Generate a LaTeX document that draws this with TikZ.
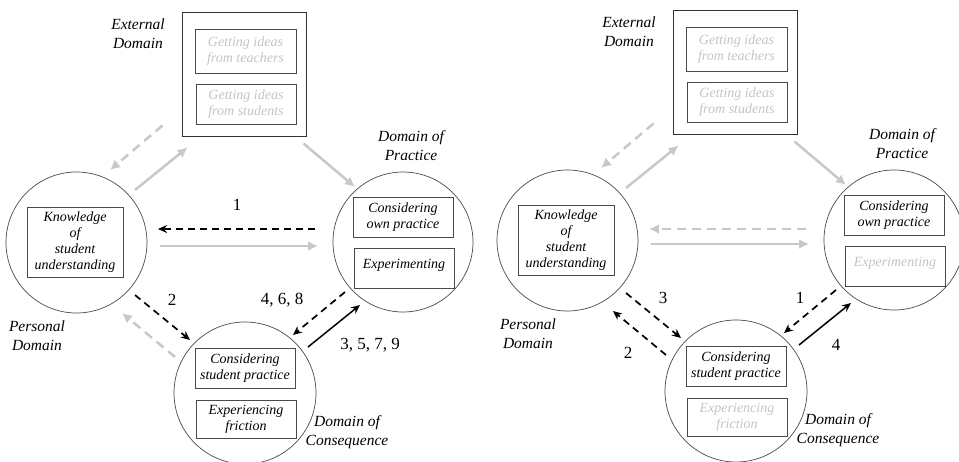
\documentclass[tikz,border=0pt]{standalone}
\usepackage{fontspec}
\setmainfont{Liberation Serif}
\usetikzlibrary{arrows.meta,calc}
\definecolor{lightarr}{HTML}{C8C8C8}
\definecolor{graytxt}{HTML}{C4C4C4}
\definecolor{edgec}{HTML}{4A4A4A}
\tikzset{
  domcircle/.style={circle, draw=edgec, line width=0.7pt, minimum size=141pt, inner sep=0pt},
  ibox/.style={draw=edgec, line width=0.9pt, minimum width=100pt, minimum height=40pt, inner sep=0pt, align=center, font=\fontsize{14}{16}\selectfont\itshape},
  extbox/.style={draw=black!80, line width=1pt, minimum width=124pt, minimum height=124pt, inner sep=0pt},
  domlabel/.style={font=\fontsize{15.5}{19}\selectfont\itshape, align=center, inner sep=0pt},
  numlabel/.style={font=\fontsize{17}{20}\selectfont, inner sep=0pt},
  blackdash/.style={draw=black, line width=1.7pt, dash pattern=on 7pt off 5pt, -{Stealth[length=9pt,width=8pt]}},
  blacksolid/.style={draw=black, line width=1.5pt, -{Stealth[length=9pt,width=8pt]}},
  graysolid/.style={draw=lightarr, line width=2.5pt, -{Latex[length=10pt,width=10pt]}},
  graydash/.style={graysolid, dash pattern=on 9pt off 6pt},
}
\begin{document}
\begin{tikzpicture}[x=1pt,y=-1pt]
\useasboundingbox (0,0) rectangle (959,461);

% ---------------- left diagram ----------------
\begin{scope}
  \node[extbox] (Lext) at (244,74) {};
  \node[ibox, minimum width=101pt, minimum height=44pt, text=graytxt] (Lteach) at (245.5,51) {Getting ideas\\from teachers};
  \node[ibox, text=graytxt] (Lstud) at (246,104) {Getting ideas\\from students};
  \node[domlabel] (LextL) at (138,34) {External\\Domain};

  \node[domcircle] (Lpers) at (76.5,242.5) {};
  \node[ibox, minimum width=96pt, minimum height=70pt] (Lknow) at (75,242) {Knowledge\\of\\student\\understanding};
  \node[domlabel] (LpersL) at (37,336) {Personal\\Domain};

  \node[domcircle, minimum size=140pt] (Lprac) at (403,242) {};
  \node[ibox] (Lown) at (403,217) {Considering\\own practice};
  \node[ibox, text height=10pt, text depth=10pt] (Lexp) at (404,268) {Experimenting};
  \node[domlabel] (LpracL) at (411,146) {Domain of\\Practice};

  \node[domcircle, minimum size=142pt] (Lcons) at (245,393) {};
  \node[ibox] (Lcsp) at (245,368) {Considering\\student practice};
  \node[ibox, minimum height=38pt] (Lfric) at (246,419) {Experiencing\\friction};
  \node[domlabel] (LconsL) at (347,432) {Domain of\\Consequence};

  \draw[graydash] ($(Lext.south west)+(-19,-11)$) -- ($(Lpers)+(33.5,-72.5)$);
  \draw[graysolid] ($(Lpers)+(58.5,-52.5)$) -- ($(Lext.south west)+(6,11)$);
  \draw[graysolid] ($(Lext.south east)+(-3,7)$) -- ($(Lprac)+(-48,-55)$);
  \draw[blackdash] ($(Lprac)+(-88,-13)$) -- ($(Lpers)+(81.5,-13.5)$);
  \draw[graysolid] ($(Lpers)+(83.5,3.5)$) -- ($(Lprac)+(-85,4)$);
  \draw[blackdash] ($(Lpers)+(58.5,52.5)$) -- ($(Lcons)+(-55,-53)$);
  \draw[graydash] ($(Lcons)+(-70,-36)$) -- ($(Lpers)+(45.5,70.5)$);
  \draw[blackdash] ($(Lprac)+(-58,50)$) -- ($(Lcons)+(48,-58)$);
  \draw[blacksolid] ($(Lcons)+(63,-46)$) -- ($(Lprac)+(-43,63)$);

  \node[numlabel] (Ln1) at (237,205) {1};
  \node[numlabel] (Ln2) at (172,300) {2};
  \node[numlabel] (Ln468) at (282,300) {4, 6, 8};
  \node[numlabel] (Ln3579) at (370,345) {3, 5, 7, 9};
\end{scope}

% ---------------- right diagram ----------------
\begin{scope}[shift={(491,-2)}]
  \node[extbox] (Rext) at (244,74) {};
  \node[ibox, minimum width=101pt, minimum height=44pt, text=graytxt] (Rteach) at (245.5,51) {Getting ideas\\from teachers};
  \node[ibox, text=graytxt] (Rstud) at (246,104) {Getting ideas\\from students};
  \node[domlabel] (RextL) at (138,34) {External\\Domain};

  \node[domcircle] (Rpers) at (76.5,242.5) {};
  \node[ibox, minimum width=96pt, minimum height=70pt] (Rknow) at (75,242) {Knowledge\\of\\student\\understanding};
  \node[domlabel] (RpersL) at (37,336) {Personal\\Domain};

  \node[domcircle, minimum size=140pt] (Rprac) at (403,242) {};
  \node[ibox] (Rown) at (403,217) {Considering\\own practice};
  \node[ibox, text height=10pt, text depth=10pt, text=graytxt] (Rexp) at (404,268) {Experimenting};
  \node[domlabel] (RpracL) at (411,146) {Domain of\\Practice};

  \node[domcircle, minimum size=142pt] (Rcons) at (245,393) {};
  \node[ibox] (Rcsp) at (245,368) {Considering\\student practice};
  \node[ibox, minimum height=38pt, text=graytxt] (Rfric) at (246,419) {Experiencing\\friction};
  \node[domlabel] (RconsL) at (347,432) {Domain of\\Consequence};

  \draw[graydash] ($(Rext.south west)+(-19,-11)$) -- ($(Rpers)+(33.5,-72.5)$);
  \draw[graysolid] ($(Rpers)+(58.5,-52.5)$) -- ($(Rext.south west)+(6,11)$);
  \draw[graysolid] ($(Rext.south east)+(-3,7)$) -- ($(Rprac)+(-48,-55)$);
  \draw[graydash] ($(Rprac)+(-88,-11)$) -- ($(Rpers)+(81.5,-11.5)$);
  \draw[graysolid] ($(Rpers)+(83.5,3.5)$) -- ($(Rprac)+(-85,4)$);
  \draw[blackdash] ($(Rpers)+(58.5,52.5)$) -- ($(Rcons)+(-55,-53)$);
  \draw[blackdash] ($(Rcons)+(-70,-36)$) -- ($(Rpers)+(45.5,70.5)$);
  \draw[blackdash] ($(Rprac)+(-58,50)$) -- ($(Rcons)+(48,-58)$);
  \draw[blacksolid] ($(Rcons)+(63,-46)$) -- ($(Rprac)+(-43,63)$);

  \node[numlabel] (Rn3) at (172,300) {3};
  \node[numlabel] (Rn2) at (137,355) {2};
  \node[numlabel] (Rn1) at (309,300) {1};
  \node[numlabel] (Rn4) at (345,347) {4};
\end{scope}
\end{tikzpicture}
\end{document}
